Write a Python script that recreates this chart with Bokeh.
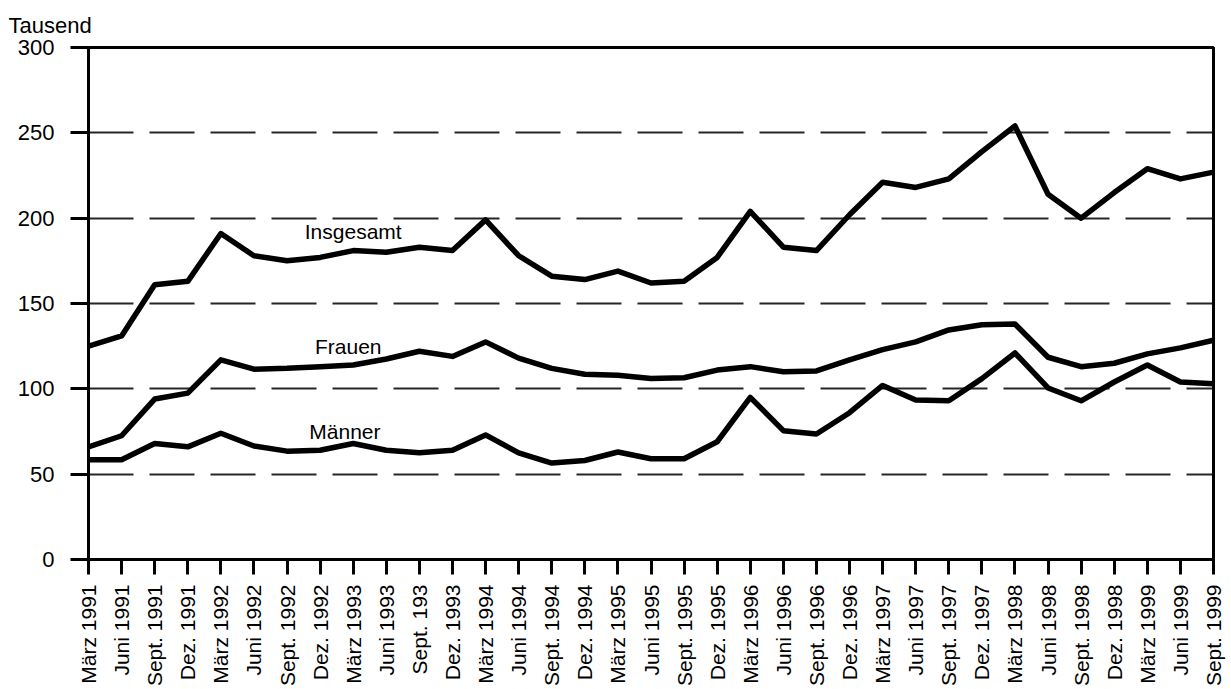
import math
from bokeh.plotting import figure
from bokeh.models import Range1d, FixedTicker, Label
from bokeh.embed import file_html
from bokeh.resources import INLINE

quarters = ["März 1991", "Juni 1991", "Sept. 1991", "Dez. 1991",
            "März 1992", "Juni 1992", "Sept. 1992", "Dez. 1992",
            "März 1993", "Juni 1993", "Sept. 193", "Dez. 1993",
            "März 1994", "Juni 1994", "Sept. 1994", "Dez. 1994",
            "März 1995", "Juni 1995", "Sept. 1995", "Dez. 1995",
            "März 1996", "Juni 1996", "Sept. 1996", "Dez. 1996",
            "März 1997", "Juni 1997", "Sept. 1997", "Dez. 1997",
            "März 1998", "Juni 1998", "Sept. 1998", "Dez. 1998",
            "März 1999", "Juni 1999", "Sept. 1999"]

insgesamt = [125, 131, 161, 163, 191, 178, 175, 177, 181, 180, 183, 181,
             199, 178, 166, 164, 169, 162, 163, 177, 204, 183, 181, 202,
             221, 218, 223, 239, 254, 214, 200, 215, 229, 223, 227]

frauen = [66, 72.5, 94, 97.5, 117, 111.5, 112, 113, 114, 117.5, 122, 119,
          127.5, 118, 112, 108.5, 108, 106, 106.5, 111, 113, 110, 110.5, 117,
          123, 127.5, 134.5, 137.5, 138, 118.5, 113, 115, 120.5, 124, 128.5]

maenner = [58.5, 58.5, 68, 66, 74, 66.5, 63.5, 64, 68, 64, 62.5, 64,
           73, 62.5, 56.5, 58, 63, 59, 59, 69, 95, 75.5, 73.5, 86,
           102, 93.5, 93, 106, 121, 100.5, 93, 104, 114, 104, 103]

y_ticks = [0, 50, 100, 150, 200, 250, 300]
series_names = ["Insgesamt", "Frauen", "Männer"]

FONT = "Liberation Sans"

xs = list(range(len(quarters)))

p = figure(width=1231, height=689,
           x_range=Range1d(0, len(quarters) - 1), y_range=Range1d(0, 300),
           output_backend="svg", toolbar_location=None,
           min_border_left=88, min_border_right=18,
           min_border_top=47, min_border_bottom=129,
           title="Tausend")

p.title.text_font = FONT
p.title.text_font_size = "22px"
p.title.text_font_style = "normal"
p.title.text_color = "black"
p.title.align = "left"
p.title.offset = -80
p.title.standoff = 19

p.background_fill_color = "white"
p.border_fill_color = "white"
p.outline_line_color = "black"
p.outline_line_width = 3

# axes
p.xaxis.ticker = FixedTicker(ticks=xs)
p.xaxis.major_label_overrides = {i: q for i, q in enumerate(quarters)}
p.xaxis.major_label_orientation = math.pi / 2
p.xaxis.major_label_text_font = FONT
p.xaxis.major_label_text_font_size = "21px"
p.xaxis.major_label_text_color = "black"
p.xaxis.major_label_standoff = 10
p.xaxis.major_tick_out = 15
p.xaxis.major_tick_in = 0
p.xaxis.minor_tick_line_color = None

p.yaxis.ticker = FixedTicker(ticks=y_ticks)
p.yaxis.major_label_text_font = FONT
p.yaxis.major_label_text_font_size = "22px"
p.yaxis.major_label_text_color = "black"
p.yaxis.major_label_standoff = 16
p.yaxis.major_tick_out = 18
p.yaxis.major_tick_in = 0
p.yaxis.minor_tick_line_color = None

for ax in (p.xaxis, p.yaxis):
    ax.axis_line_width = 3
    ax.axis_line_color = "black"
    ax.major_tick_line_width = 3
    ax.major_tick_line_color = "black"

# grid
p.xgrid.visible = False
p.ygrid.ticker = FixedTicker(ticks=y_ticks[1:-1])
p.ygrid.grid_line_color = "black"
p.ygrid.grid_line_alpha = 0.85
p.ygrid.grid_line_width = 2
p.ygrid.grid_line_dash = "45 16"

# series
for ys in (insgesamt, frauen, maenner):
    p.line(xs, ys, line_color="black", line_width=5.5, line_join="round")

# series labels
label_pos = [(8.0, 192), (7.85, 125), (7.75, 75)]
for name, (lx, ly) in zip(series_names, label_pos):
    p.add_layout(Label(x=lx, y=ly, text=name, text_font=FONT,
                       text_font_size="21px", text_color="black",
                       text_align="center", text_baseline="middle"))

open("out.html", "w").write(file_html(p, INLINE))
